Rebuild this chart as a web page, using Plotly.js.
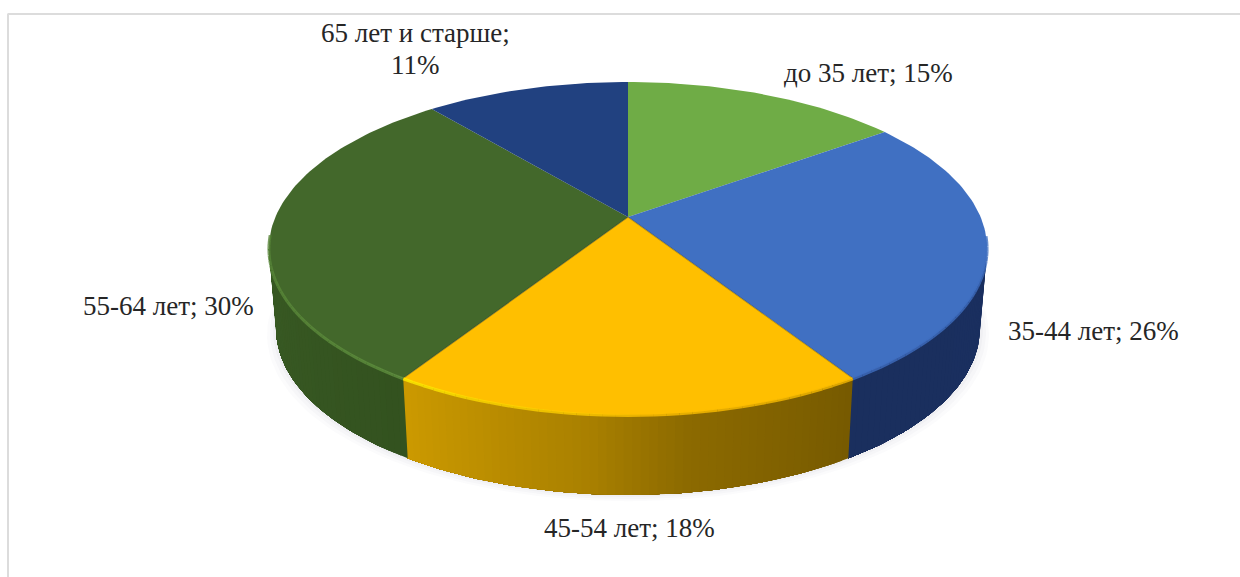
<!DOCTYPE html>
<html><head><meta charset="utf-8">
<script src="https://cdn.plot.ly/plotly-3.0.1.min.js"></script>
<style>html,body{margin:0;padding:0;background:#fff}#c{width:1240px;height:577px}</style>
</head><body><div id="c"></div>
<script>
const categories = ["до 35 лет","35-44 лет","45-54 лет","55-64 лет","65 лет и старше"];
const values = [15,26,18,30,11];
const topColors = ["#6fac46","#4070c2","#ffbf00","#43682b","#214180"];
const wallStops = [
  [[0,"#55833a"],[1,"#55833a"]],
  [[0,"#1a2f5e"],[1,"#1b3060"]],
  [[0,"#cc9a00"],[0.42,"#a98000"],[0.62,"#8c6a00"],[1,"#775a00"]],
  [[0,"#3d6126"],[0.45,"#3a5c25"],[1,"#33521f"]],
  [[0,"#1a3463"],[1,"#1a3463"]]
];
const rimStops = [
  [[0,"#6fac46"],[1,"#6fac46"]],
  [[0,"#3e6dbf"],[1,"#4070c2"]],
  [[0,"#fff000"],[0.2,"#fcd800"],[0.55,"#ffc000"],[1,"#f5b800"]],
  [[0,"#43682b"],[0.3,"#537f35"],[1,"#5f8f3e"]],
  [[0,"#214180"],[1,"#214180"]]
];

// projection of the tilted disc onto the chart plane
const CX=628, CY=217, AX=352.6, AY=160.5, K=0.189, DEPTH=80, SHRINK=0.98;
function proj(a){const u=Math.sin(a),v=Math.cos(a),w=1+K*v;return [CX+AX*u/w,CY-AY*v/w];}
function low(a){const p=proj(a);return [CX+(p[0]-CX)*SHRINK,p[1]+DEPTH];}
function hex(c){return [1,3,5].map(i=>parseInt(c.substr(i,2),16));}
function mix(stops,t){
  for(let i=1;i<stops.length;i++){ if(t<=stops[i][0]){
    const f=(t-stops[i-1][0])/((stops[i][0]-stops[i-1][0])||1);
    const a=hex(stops[i-1][1]),b=hex(stops[i][1]);
    return "rgb("+a.map((x,j)=>Math.round(x+(b[j]-x)*f)).join(",")+")";
  }}
  return stops[stops.length-1][1];
}
function poly(pts,fill){return {type:"scatter",mode:"lines",x:pts.map(p=>p[0]),y:pts.map(p=>p[1]),
  fill:"toself",fillcolor:fill,line:{color:fill,width:0},hoverinfo:"skip",showlegend:false};}

const total=values.reduce((a,b)=>a+b,0);
const edges=[0]; values.forEach(v=>edges.push(edges[edges.length-1]+v/total*2*Math.PI));
const traces=[];

// soft cast shadow
[[9,0.025],[6,0.03],[3,0.04]].forEach(([g,op])=>{
  const pts=[];
  for(let i=0;i<=180;i++){const a=i/180*2*Math.PI,p=low(a);
    pts.push([CX+(p[0]-CX)*(1+g/350),p[1]+g*0.7]);}
  traces.push(poly(pts,"rgba(90,90,120,"+op+")"));
});

// side wall: each strip runs on to the end of its slice, the next strip paints over it
const silh=Math.acos(-K);
values.forEach((v,s)=>{
  const a0=Math.max(edges[s],silh), a1=Math.min(edges[s+1],2*Math.PI-silh);
  if(a1<=a0) return;
  const n=Math.max(2,Math.ceil((a1-a0)/0.02));
  for(let i=0;i<n;i++){
    const b0=a0+(a1-a0)*i/n;
    const t=(edges[s+1]-(b0+(a1-a0)/(2*n)))/(edges[s+1]-edges[s]);
    const c=mix(wallStops[s],t);
    const pts=[];
    for(let j=i;j<=n;j++) pts.push(proj(a0+(a1-a0)*j/n));
    for(let j=n;j>=i;j--) pts.push(low(a0+(a1-a0)*j/n));
    pts.push(pts[0]);
    traces.push(poly(pts,c));
  }
});

// top face
values.forEach((v,s)=>{
  const n=Math.ceil((edges[s+1]-edges[s])/0.02);
  const pts=[[CX,CY]];
  for(let i=0;i<=n;i++) pts.push(proj(edges[s]+(edges[s+1]-edges[s])*i/n));
  pts.push([CX,CY]);
  traces.push(poly(pts,topColors[s]));
});

// thin shade along the slice borders that face the viewer
[2,3].forEach(i=>{
  const p=proj(edges[i]);
  traces.push({type:"scatter",mode:"lines",x:[CX,p[0]],y:[CY,p[1]],
    line:{color:"rgba(50,45,10,0.35)",width:1.2},hoverinfo:"skip",showlegend:false});
});

// bevel on the visible rim
values.forEach((v,s)=>{
  const a0=edges[s],a1=edges[s+1];
  const n=Math.ceil((a1-a0)/0.03);
  for(let i=0;i<n;i++){
    const b0=a0+(a1-a0)*i/n,b1=a0+(a1-a0)*(i+1)/n;
    if(Math.cos((b0+b1)/2)>-0.1) continue;
    const c=mix(rimStops[s],(edges[s+1]-(b0+b1)/2)/(a1-a0));
    const p=proj(b0),q=proj(b1);
    traces.push({type:"scatter",mode:"lines",x:[p[0],q[0]],y:[p[1]+0.5,q[1]+0.5],
      line:{color:c,width:3},opacity:0.8,hoverinfo:"skip",showlegend:false});
  }
});

const FONT={family:"Liberation Serif, Times New Roman, serif",size:27,color:"#262626"};
const pct=i=>values[i]+"%";
const annPos=[[868,73],[1093,331],[629,528],[168,306]];
const annotations=annPos.map((p,i)=>({x:p[0],y:p[1],xref:"x",yref:"y",showarrow:false,
  text:categories[i]+"; "+pct(i),font:FONT,xanchor:"center",yanchor:"middle"}));
annotations.push({x:415,y:33,xref:"x",yref:"y",showarrow:false,text:categories[4]+";",font:FONT,xanchor:"center",yanchor:"middle"});
annotations.push({x:415,y:65,xref:"x",yref:"y",showarrow:false,text:pct(4),font:FONT,xanchor:"center",yanchor:"middle"});

const layout={width:1240,height:577,margin:{l:0,r:0,t:0,b:0},paper_bgcolor:"#fff",plot_bgcolor:"#fff",showlegend:false,
  xaxis:{visible:false,range:[0,1240],fixedrange:true},
  yaxis:{visible:false,range:[577,0],fixedrange:true},
  annotations,
  shapes:[
    {type:"line",xref:"x",yref:"y",x0:7.5,x1:1240,y0:14,y1:14,line:{color:"#dcdcdc",width:2}},
    {type:"line",xref:"x",yref:"y",x0:8,x1:8,y0:14,y1:577,line:{color:"#dcdcdc",width:2}}
  ]};
Plotly.newPlot("c",traces,layout,{displayModeBar:false,staticPlot:true});
</script></body></html>
